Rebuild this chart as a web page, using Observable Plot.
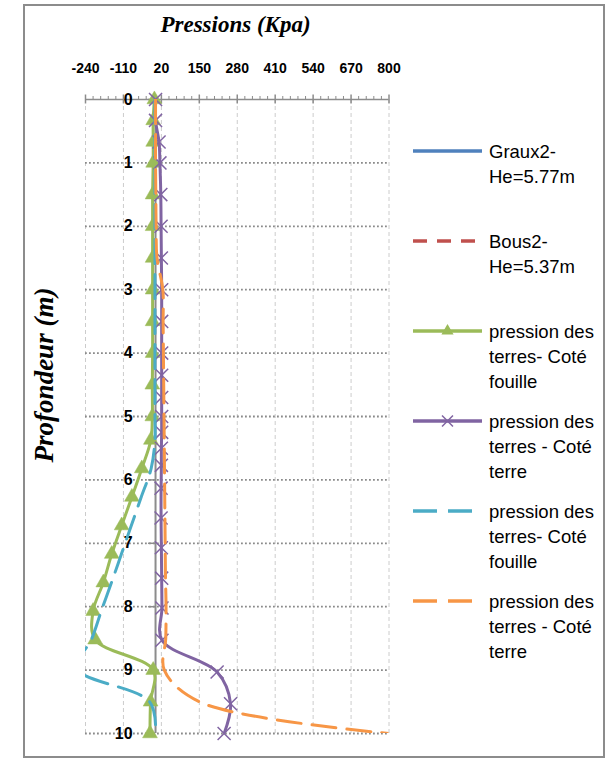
<!DOCTYPE html>
<html><head><meta charset="utf-8">
<script src="https://cdn.jsdelivr.net/npm/d3@7"></script>
<script src="https://cdn.jsdelivr.net/npm/@observablehq/plot@0.6"></script>
<style>
html,body{margin:0;padding:0;background:#fff;}
#wrap{position:relative;width:614px;height:761px;overflow:hidden;background:#fff;}
#wrap svg{position:absolute;left:0;top:0;}
</style></head><body><div id="wrap"></div>
<script>
// ---- tick labels ----
const xTicks = [-240, -110, 20, 150, 280, 410, 540, 670, 800];
const yTicks = [0, 1, 2, 3, 4, 5, 6, 7, 8, 9, 10];
const xMinor = d3.range(-240, 801, 26).filter(v => !xTicks.includes(v));

// ---- series: pression des terres - Coté fouille (green, triangles) ----
const depthFouilleTri = [0, 0.33, 0.67, 1, 1.5, 2, 2.5, 3, 3.5, 4, 4.5, 5, 5.37, 5.82, 6.27, 6.72, 7.17, 7.62, 8.07, 8.52, 9.0, 9.5, 10];
const presFouilleTri  = [-4, -8, -8, -8, -10, -10, -10, -10, -10, -10, -11, -11, -16, -47, -81, -116, -150, -179, -214, -207, -8, -17, -19];

// ---- series: pression des terres - Coté terre (purple, x) ----
const depthTerreX = [0, 0.33, 0.67, 1, 1.5, 2, 2.5, 3, 3.5, 4, 4.35, 4.7, 5, 5.25, 5.5, 5.77, 6.13, 6.6, 7.07, 7.55, 8.02, 8.53, 9.03, 9.53, 10];
const presTerreX  = [0, 0, 12, 15, 18, 19, 20, 21, 21, 21, 21, 21, 21, 21, 20, 20, 19, 19, 20, 21, 22, 22, 211, 257, 235];

// ---- series: pression des terres- Coté fouille (teal, dashed) ----
const depthFouilleDash = [0, 0.5, 1, 1.5, 2, 2.5, 3, 3.5, 4, 4.5, 5, 5.37, 5.82, 6.27, 6.72, 7.17, 7.62, 8.07, 8.52, 8.97, 9.5, 10];
const presFouilleDash  = [-2, -2, -2, -2, -2, -2, -2, -2, -2, -2, -2, -2, -15, -49, -83, -117, -151, -186, -220, -270, -20, 0];

// ---- series: pression des terres - Coté terre (orange, dashed) ----
const depthTerreDash = [0, 0.5, 1, 1.5, 2, 2.5, 3, 3.5, 4, 4.5, 5, 5.5, 6, 6.5, 7, 7.5, 8, 8.5, 9, 9.5, 10];
const presTerreDash  = [0, 0, 0, 1, 2, 5, 25, 26, 27, 28, 29, 30, 31, 32, 33, 34, 36, 35, 30, 150, 800];

// ---- legend ----
const legendLabels = [
  ["Graux2-", "He=5.77m"],
  ["Bous2-", "He=5.37m"],
  ["pression des", "terres- Coté", "fouille"],
  ["pression des", "terres - Coté", "terre"],
  ["pression des", "terres- Coté", "fouille"],
  ["pression des", "terres - Coté", "terre"]
];
const legendColors = ["#4F81BD", "#C0504D", "#9BBB59", "#8064A2", "#4BACC6", "#F79646"];
const legendDash   = [null, "14,10", null, null, "24,11", "24,11"];
const legendMarker = [null, null, "triangle", "times", null, null];

const rows = (d, v) => d.map((y, i) => ({y, x: v[i]}));
const green  = rows(depthFouilleTri, presFouilleTri);
const purple = rows(depthTerreX, presTerreX);
const teal   = rows(depthFouilleDash, presFouilleDash);
const orange = rows(depthTerreDash, presTerreDash);

const axisGray = "#8c8c8c";
const font = "'Liberation Sans', Arial, sans-serif";

const chart = Plot.plot({
  width: 614, height: 761,
  marginTop: 99, marginBottom: 28, marginLeft: 85, marginRight: 225.5,
  x: {domain: [-240, 800], axis: null},
  y: {domain: [0, 10], reverse: true, axis: null},
  style: {background: "transparent", fontFamily: font, overflow: "visible"},
  marks: [
    Plot.ruleX(xTicks, {stroke: "#cccccc", strokeDasharray: "4,3", strokeWidth: 1}),
    Plot.ruleY(yTicks.filter(d => d > 0), {stroke: "#8a8a8a", strokeWidth: 1.8, strokeDasharray: "1.8,2.2"}),
    Plot.ruleX([0], {stroke: axisGray, strokeWidth: 2}),
    Plot.ruleY(yTicks, {x1: 0, x2: 0, insetLeft: -7, stroke: axisGray, strokeWidth: 1.5}),
    Plot.ruleY([0], {stroke: axisGray, strokeWidth: 1.5}),
    Plot.ruleX(xTicks, {y1: 0, y2: 0, insetTop: -4.5, insetBottom: -4.5, stroke: axisGray, strokeWidth: 1.5}),
    Plot.ruleX(xMinor, {y1: 0, y2: 0, insetTop: -3, stroke: axisGray, strokeWidth: 1}),
    Plot.text(xTicks, {x: d => d, frameAnchor: "top", lineAnchor: "middle", dy: -31, fontWeight: "bold", fontSize: 14, fill: "#000"}),
    Plot.text(yTicks, {y: d => d, x: 0, dx: -23, textAnchor: "end", lineAnchor: "middle", fontWeight: "bold", fontSize: 16, fill: "#000"}),
    // green with triangles
    Plot.line(green, {x: "x", y: "y", stroke: "#9BBB59", strokeWidth: 3, curve: "catmull-rom", clip: true}),
    Plot.dot(green, {x: "x", y: "y", symbol: "triangle", r: 5.5, fill: "#9BBB59", stroke: "#9BBB59", strokeWidth: 0.5}),
    // purple with x
    Plot.line(purple, {x: "x", y: "y", stroke: "#8064A2", strokeWidth: 3, curve: "catmull-rom", clip: true}),
    Plot.dot(purple, {x: "x", y: "y", symbol: "times", r: 6, stroke: "#8064A2", strokeWidth: 1.5}),
    // teal dashed
    Plot.line(teal, {x: "x", y: "y", stroke: "#4BACC6", strokeWidth: 3, strokeDasharray: "24,11", curve: "catmull-rom", clip: true}),
    // orange dashed
    Plot.line(orange, {x: "x", y: "y", stroke: "#F79646", strokeWidth: 3, strokeDasharray: "24,11", curve: "catmull-rom", clip: true})
  ]
});
const wrap = document.getElementById("wrap");
wrap.appendChild(chart);

// ---- overlay: border, titles, legend ----
const svg = d3.select(wrap).append("svg").attr("width", 614).attr("height", 761).style("pointer-events", "none");
svg.append("rect").attr("x", 24).attr("y", 5).attr("width", 580).attr("height", 752)
  .attr("fill", "none").attr("stroke", "#8c8c8c").attr("stroke-width", 2);
svg.append("text").attr("x", 235.5).attr("y", 32).attr("text-anchor", "middle")
  .style("font-family", "'Liberation Serif', 'Times New Roman', serif").style("font-weight", "bold").style("font-style", "italic")
  .style("font-size", "23px").attr("fill", "#000").text("Pressions (Kpa)");
svg.append("text").attr("transform", "translate(53,375) rotate(-90)").attr("text-anchor", "middle")
  .style("font-family", "'Liberation Serif', 'Times New Roman', serif").style("font-weight", "bold").style("font-style", "italic")
  .style("font-size", "27px").attr("fill", "#000").text("Profondeur (m)");

const lg = svg.append("g");
legendLabels.forEach((lines, i) => {
  const y = 151 + i * 90;
  lg.append("line").attr("x1", 413).attr("x2", 482).attr("y1", y).attr("y2", y)
    .attr("stroke", legendColors[i]).attr("stroke-width", 3.3)
    .attr("stroke-dasharray", legendDash[i]);
  if (legendMarker[i] === "triangle") {
    lg.append("path").attr("d", d3.symbol(d3.symbolTriangle, 64)()).attr("transform", `translate(447.5,${y})`)
      .attr("fill", legendColors[i]);
  } else if (legendMarker[i] === "times") {
    lg.append("path").attr("d", d3.symbol(d3.symbolTimes, 80)()).attr("transform", `translate(447.5,${y})`)
      .attr("fill", "none").attr("stroke", legendColors[i]).attr("stroke-width", 1.5);
  }
  lines.forEach((t, k) => {
    lg.append("text").attr("x", 489).attr("y", y + 6.5 + k * 25)
      .style("font-family", font).style("font-size", "18.5px").attr("fill", "#000").text(t);
  });
});
</script>
</body></html>
